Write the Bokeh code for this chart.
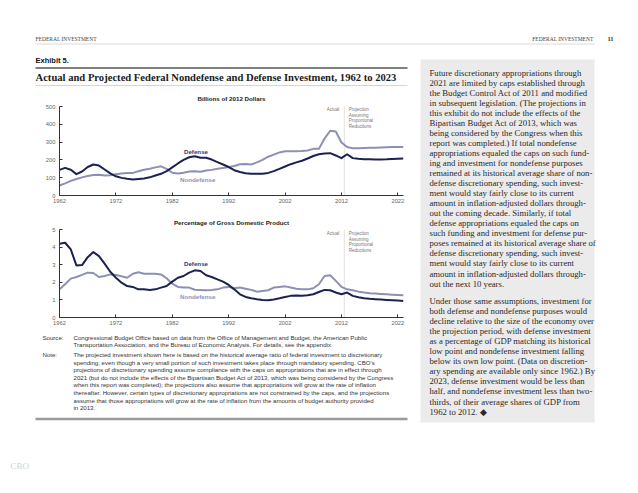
from bokeh.plotting import figure
from bokeh.layouts import column, row
from bokeh.models import Range1d, FixedTicker
from bokeh.core.properties import value
from bokeh.embed import file_html
from bokeh.resources import INLINE

# ---------------- data ----------------
years = list(range(1962, 2024))

defense_billions = [144, 155, 145, 120, 135, 160, 174, 168, 146, 124,
                    108, 99, 94, 90, 93, 96, 102, 112, 122, 137,
                    158, 180, 200, 215, 221, 212, 212, 202, 188, 174,
                    160, 142, 132, 125, 122, 122, 122, 127, 137, 150,
                    163, 176, 186, 195, 208, 222, 232, 236, 238, 225,
                    210, 232, 210, 206, 204, 203, 202, 202, 203, 205,
                    207, 208]
nondefense_billions = [56, 68, 82, 93, 102, 110, 115, 116, 112, 114,
                       120, 124, 126, 127, 136, 145, 150, 158, 164, 150,
                       128, 124, 128, 135, 136, 133, 140, 144, 150, 155,
                       160, 166, 176, 177, 174, 186, 200, 218, 230, 242,
                       249, 249, 249, 250, 253, 262, 262, 320, 364, 360,
                       298, 272, 266, 266, 267, 268, 269, 270, 271, 272,
                       272, 273]
defense_gdp = [4.19, 4.25, 3.87, 2.96, 2.98, 3.43, 3.72, 3.49, 3.06, 2.60,
               2.26, 1.98, 1.79, 1.74, 1.60, 1.60, 1.57, 1.60, 1.70, 1.79,
               2.04, 2.26, 2.36, 2.55, 2.68, 2.64, 2.40, 2.30, 2.17, 2.04,
               1.85, 1.60, 1.32, 1.17, 1.09, 1.04, 1.00, 0.98, 1.02, 1.09,
               1.17, 1.23, 1.25, 1.23, 1.26, 1.32, 1.45, 1.57, 1.55, 1.42,
               1.32, 1.42, 1.23, 1.15, 1.09, 1.06, 1.04, 1.02, 1.00, 0.98,
               0.96, 0.94]
nondefense_gdp = [1.60, 1.89, 2.21, 2.30, 2.42, 2.55, 2.53, 2.30, 2.36, 2.45,
                  2.42, 2.34, 2.26, 2.49, 2.57, 2.49, 2.49, 2.49, 2.45, 2.23,
                  1.92, 1.74, 1.70, 1.70, 1.58, 1.57, 1.55, 1.57, 1.60, 1.70,
                  1.74, 1.66, 1.70, 1.64, 1.57, 1.47, 1.51, 1.55, 1.70, 1.74,
                  1.77, 1.70, 1.64, 1.60, 1.60, 1.66, 1.89, 2.36, 2.40, 2.08,
                  1.74, 1.60, 1.55, 1.47, 1.42, 1.38, 1.36, 1.34, 1.32, 1.30,
                  1.28, 1.26]

x_ticks = [1962, 1972, 1982, 1992, 2002, 2012, 2022]
y_ticks_billions = [0, 100, 200, 300, 400, 500]
y_ticks_gdp = [0, 1, 2, 3, 4, 5]
divider_year = 2012.5

chart1_title = "Billions of 2012 Dollars"
chart2_title = "Percentage of Gross Domestic Product"
projection_lines = ["Projection", "Assuming", "Proportional", "Reductions"]

header_text = "FEDERAL INVESTMENT"
page_number = "11"
exhibit_label = "Exhibit 5."
exhibit_title = "Actual and Projected Federal Nondefense and Defense Investment, 1962 to 2023"

source_lines = [
    "Congressional Budget Office based on data from the Office of Management and Budget, the American Public",
    "Transportation Association, and the Bureau of Economic Analysis. For details, see the appendix.",
]
note_lines = [
    "The projected investment shown here is based on the historical average ratio of federal investment to discretionary",
    "spending, even though a very small portion of such investment takes place through mandatory spending. CBO\u2019s",
    "projections of discretionary spending assume compliance with the caps on appropriations that are in effect through",
    "2021 (but do not include the effects of the Bipartisan Budget Act of 2013, which was being considered by the Congress",
    "when this report was completed); the projections also assume that appropriations will grow at the rate of inflation",
    "thereafter. However, certain types of discretionary appropriations are not constrained by the caps, and the projections",
    "assume that those appropriations will grow at the rate of inflation from the amounts of budget authority provided",
    "in 2013.",
]
para1 = [
    "Future discretionary appropriations through",
    "2021 are limited by caps established through",
    "the Budget Control Act of 2011 and modified",
    "in subsequent legislation. (The projections in",
    "this exhibit do not include the effects of the",
    "Bipartisan Budget Act of 2013, which was",
    "being considered by the Congress when this",
    "report was completed.) If total nondefense",
    "appropriations equaled the caps on such fund-",
    "ing and investment for nondefense purposes",
    "remained at its historical average share of non-",
    "defense discretionary spending, such invest-",
    "ment would stay fairly close to its current",
    "amount in inflation-adjusted dollars through-",
    "out the coming decade. Similarly, if total",
    "defense appropriations equaled the caps on",
    "such funding and investment for defense pur-",
    "poses remained at its historical average share of",
    "defense discretionary spending, such invest-",
    "ment would stay fairly close to its current",
    "amount in inflation-adjusted dollars through-",
    "out the next 10 years.",
]
para2 = [
    "Under those same assumptions, investment for",
    "both defense and nondefense purposes would",
    "decline relative to the size of the economy over",
    "the projection period, with defense investment",
    "as a percentage of GDP matching its historical",
    "low point and nondefense investment falling",
    "below its own low point. (Data on discretion-",
    "ary spending are available only since 1962.) By",
    "2023, defense investment would be less than",
    "half, and nondefense investment less than two-",
    "thirds, of their average shares of GDP from",
    "1962 to 2012. \u25c6",
]

# ---------------- styles ----------------
DEF_COLOR = "#1b2150"
NON_COLOR = "#8d90b4"
DEF_LABEL = "#2c3a78"
NON_LABEL = "#8d92b8"
SERIF = "Liberation Serif"
SANS = "Liberation Sans"


def no_align(p):
    if "frame_align" in p.properties():
        p.frame_align = False
    return p


def text_fig(x0, x1, y0, y1):
    p = figure(width=x1 - x0, height=y1 - y0,
               x_range=Range1d(x0, x1), y_range=Range1d(y1, y0),
               output_backend="svg", toolbar_location=None,
               min_border=0, x_axis_type=None, y_axis_type=None)
    p.outline_line_color = None
    p.background_fill_color = "white"
    p.border_fill_color = "white"
    return no_align(p)


def add_text(p, xs, ys, texts, size, color="#222", font=SERIF, style="normal",
             align="left", baseline="middle"):
    n = len(texts)
    if len(xs) == 1 and n > 1:
        xs = list(xs) * n
    p.text(x=xs, y=ys, text=texts, text_font=value(font), text_font_size=size,
           text_font_style=style, text_color=color, text_align=align,
           text_baseline=baseline)


# ---------------- header ----------------
header = text_fig(0, 638, 0, 55)
add_text(header, [35], [38], [header_text], "5.5px", "#444")
add_text(header, [593], [38], [header_text], "5.5px", "#444", align="right")
add_text(header, [610], [38], [page_number], "6.5px", "#333", style="bold", align="center")
header.segment(x0=[35], y0=[43.5], x1=[594], y1=[43.5], line_color="#cfcfcf", line_width=0.8)

# ---------------- exhibit title ----------------
exhibit = text_fig(0, 415, 55, 86)
add_text(exhibit, [35], [60], [exhibit_label], "7.5px", "#111", font=SANS, style="bold")
exhibit.segment(x0=[35], y0=[67.5], x1=[407], y1=[67.5], line_color="#555", line_width=1.6)
add_text(exhibit, [35], [77], [exhibit_title], "10.6px", "#1a1a1a", style="bold")
exhibit.segment(x0=[35], y0=[85.2], x1=[407], y1=[85.2], line_color="#bbbbbb", line_width=0.8)


# ---------------- charts ----------------
def chart(ytop, yticks, ybound, def_vals, non_vals):
    p = figure(width=415, height=122, x_range=Range1d(1962, 2023),
               y_range=Range1d(0, ytop), output_backend="svg",
               toolbar_location=None, min_border_left=59, min_border_right=12,
               min_border_top=4, min_border_bottom=13)
    no_align(p)
    p.outline_line_color = None
    p.xgrid.visible = False
    p.ygrid.visible = False
    p.xaxis.ticker = FixedTicker(ticks=x_ticks)
    p.yaxis.ticker = FixedTicker(ticks=yticks)
    p.yaxis.bounds = (0, ybound)
    for ax in (p.xaxis[0], p.yaxis[0]):
        ax.axis_line_color = "#333"
        ax.axis_line_width = 1
        ax.major_tick_line_color = "#333"
        ax.major_tick_in = 3
        ax.major_tick_out = 0
        ax.minor_tick_line_color = None
        ax.major_label_text_font = SANS
        ax.major_label_text_font_size = "5.8px"
        ax.major_label_text_color = "#666"
    p.xaxis.major_label_standoff = 3
    p.yaxis.major_label_standoff = 4
    p.segment(x0=[divider_year], y0=[0], x1=[divider_year], y1=[ybound],
              line_color="#aaaaaa", line_width=0.7, line_dash="1 1")
    p.line(years, non_vals, line_color=NON_COLOR, line_width=2, line_join="round")
    p.line(years, def_vals, line_color=DEF_COLOR, line_width=2, line_join="round")
    return p


px_per_unit1 = 89 / 500.0
chart1 = chart(590, y_ticks_billions, 500, defense_billions, nondefense_billions)
add_text(chart1, [1992.5], [545], [chart1_title], "6.2px", "#222", font=SANS, style="bold", align="center")
add_text(chart1, [2011.6], [483], ["Actual"], "4.5px", "#777", font=SANS, align="right")
add_text(chart1, [2013.3], [483 - i * 5.6 / px_per_unit1 for i in range(4)], projection_lines,
         "4.5px", "#777", font=SANS)
add_text(chart1, [1986.2], [247], ["Defense"], "6.2px", DEF_LABEL, font=SANS, style="bold", align="center")
add_text(chart1, [1986.5], [90], ["Nondefense"], "6.2px", NON_LABEL, font=SANS, style="bold", align="center")

px_per_unit2 = 88 / 5.0
chart2 = chart(5.97, y_ticks_gdp, 5, defense_gdp, nondefense_gdp)
add_text(chart2, [1992.5], [5.4], [chart2_title], "6.2px", "#222", font=SANS, style="bold", align="center")
add_text(chart2, [2011.6], [4.77], ["Actual"], "4.5px", "#777", font=SANS, align="right")
add_text(chart2, [2013.3], [4.77 - i * 5.6 / px_per_unit2 for i in range(4)], projection_lines,
         "4.5px", "#777", font=SANS)
add_text(chart2, [1986.2], [3.07], ["Defense"], "6.2px", DEF_LABEL, font=SANS, style="bold", align="center")
add_text(chart2, [1986.5], [1.19], ["Nondefense"], "6.2px", NON_LABEL, font=SANS, style="bold", align="center")

# ---------------- notes ----------------
notes = text_fig(0, 415, 330, 430)
add_text(notes, [42], [336.5], ["Source:"], "6.1px", "#333", font=SANS)
add_text(notes, [73], [336.5 + 7.8 * i for i in range(len(source_lines))],
         source_lines, "6.1px", "#333", font=SANS)
add_text(notes, [42], [354], ["Note:"], "6.1px", "#333", font=SANS)
add_text(notes, [73], [354 + 7.6 * i for i in range(len(note_lines))],
         note_lines, "6.1px", "#333", font=SANS)
notes.segment(x0=[35], y0=[418.5], x1=[407], y1=[418.5], line_color="#9a9a9a", line_width=2.5)

# ---------------- side panel ----------------
panel = text_fig(415, 636, 55, 430)
panel.quad(left=[420], right=[594], top=[59], bottom=[422], fill_color="#ebebeb", line_color=None)
add_text(panel, [429], [72 + 10.05 * i for i in range(len(para1))], para1, "8.7px", "#2a2a2a")
add_text(panel, [429], [300 + 10.1 * i for i in range(len(para2))], para2, "8.7px", "#2a2a2a")

# ---------------- footer ----------------
footer = text_fig(0, 636, 430, 490)
add_text(footer, [10], [465], ["CBO"], "9px", "#d0d0d0")

layout = column(header, row(column(exhibit, chart1, chart2, notes), panel), footer)

with open("out.html", "w") as f:
    f.write(file_html(layout, INLINE))
